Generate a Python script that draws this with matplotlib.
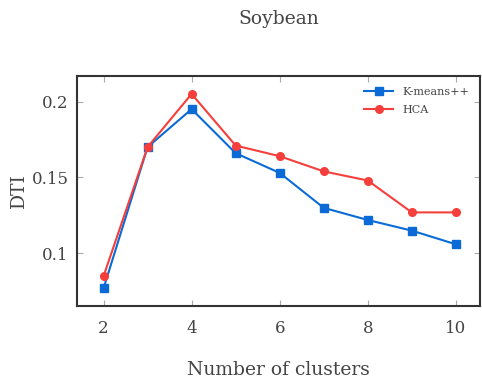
import matplotlib
matplotlib.use("Agg")
import matplotlib.pyplot as plt

# Soybean: DTI vs number of clusters
clusters = [2, 3, 4, 5, 6, 7, 8, 9, 10]
kmeans_dti = [0.077, 0.170, 0.195, 0.166, 0.153, 0.130, 0.122, 0.115, 0.106]
hca_dti = [0.085, 0.170, 0.205, 0.171, 0.164, 0.154, 0.148, 0.127, 0.127]
x_ticks = [2, 4, 6, 8, 10]
y_ticks = [0.1, 0.15, 0.2]
y_tick_labels = ["0.1", "0.15", "0.2"]

text_color = "#444444"
plt.rcParams["font.family"] = ["DejaVu Serif"]

fig = plt.figure(figsize=(4.82, 3.87), dpi=100)
ax = fig.add_axes([0.16, 0.209, 0.836, 0.595])

ax.plot(clusters, kmeans_dti, color="#0b6bd6", marker="s", markersize=5.5,
        linewidth=1.5, label="K-means++")
ax.plot(clusters, hca_dti, color="#f43f3c", marker="o", markersize=5.5,
        linewidth=1.5, label="HCA")

ax.set_xlim(1.4, 10.55)
ax.set_ylim(0.0653, 0.2169)
ax.set_xticks(x_ticks)
ax.set_yticks(y_ticks)
ax.set_yticklabels(y_tick_labels)

ax.tick_params(direction="in", top=True, right=True, length=4,
               color="#aaaaaa", labelcolor=text_color, labelsize=12)
ax.tick_params(axis="x", pad=10)
ax.tick_params(axis="y", pad=6)
for spine in ax.spines.values():
    spine.set_color("#333333")
    spine.set_linewidth(1.5)

ax.set_xlabel("Number of clusters", fontsize=13.5, color=text_color, labelpad=17)
ax.set_ylabel("DTI", fontsize=13.5, color=text_color, labelpad=3)
fig.text(0.579, 0.952, "Soybean", ha="center", va="center", fontsize=13.5,
         color=text_color)

leg = ax.legend(loc="upper right", frameon=False, fontsize=8,
                handlelength=2.6, labelspacing=0.75, borderaxespad=0.6,
                labelcolor=text_color)

fig.savefig("out.png", dpi=100)
